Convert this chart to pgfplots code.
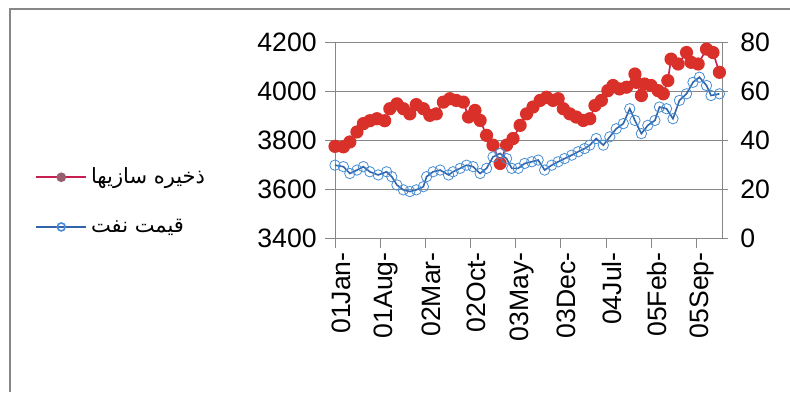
\documentclass[border=0pt]{standalone}
\usepackage{fontspec}
\setmainfont{Liberation Sans}
\newfontfamily\arabicfont[Script=Arabic]{DejaVu Sans}
\TeXXeTstate=1
\usepackage{pgfplots}
\pgfplotsset{compat=1.18}
\definecolor{redm}{RGB}{218,48,42}
\definecolor{redl}{RGB}{200,30,80}
\definecolor{redleg}{RGB}{150,95,110}
\definecolor{bluel}{RGB}{50,100,170}
\definecolor{bluem}{RGB}{70,140,210}
\definecolor{gridc}{RGB}{135,135,135}
\begin{document}
\begin{tikzpicture}
\path[use as bounding box] (0,0) rectangle (395pt,196pt);
\draw[gridc, line width=1pt] (5pt,0pt) -- (5pt,191.5pt) -- (395pt,191.5pt);
\begin{axis}[
  at={(167.5pt,77pt)}, anchor=south west,
  scale only axis, width=193.5pt, height=97.75pt,
  xmin=0, xmax=60, ymin=3400, ymax=4200,
  axis line style={gridc},
  ytick={3400,3600,3800,4000,4200},
  xtick={0,7,14,21,28,35,42,49,56},
  xticklabels={01Jan-,01Aug-,02Mar-,02Oct-,03May-,03Dec-,04Jul-,05Feb-,05Sep-},
  ytick pos=left, xtick pos=bottom,
  tick align=outside, major tick length=5pt,
  tick style={gridc, thin},
  ymajorgrids, grid style={gridc, thin},
  /pgf/number format/assume math mode=true,
  /pgf/number format/1000 sep={},
  tick label style={font=\fontsize{13.3}{16}\selectfont},
  xticklabel style={xshift=3pt, rotate=90, anchor=east, inner sep=2pt},
  yticklabel style={inner sep=1pt, xshift=-3pt},
  clip=false,
]
\addplot[redl, thick, mark=*, mark size=2.9pt, mark options={draw=redm, fill=redm}] coordinates {
(0,3775) (1.3,3773) (2.3,3793) (3.4,3834) (4.4,3868) (5.4,3880) (6.5,3888) (7.7,3880)
(8.5,3929) (9.6,3949) (10.6,3929) (11.6,3908) (12.6,3946) (13.7,3929) (14.7,3902) (15.7,3908)
(16.8,3956) (17.8,3970) (18.8,3963) (19.9,3956) (20.7,3895) (21.7,3922) (22.5,3881) (23.5,3820)
(24.5,3780) (25.6,3705) (26.6,3780) (27.6,3807) (28.7,3861) (29.7,3908) (30.7,3936) (31.8,3963)
(32.8,3976) (33.8,3963) (34.6,3970) (35.4,3929) (36.4,3908) (37.4,3895) (38.5,3881) (39.5,3888)
(40.3,3942) (41.3,3963) (42.3,4003) (43.1,4024) (44.1,4010) (45.2,4017) (46.5,4071) (46.7,4037)
(47.5,3983) (48.0,4030) (49.0,4024) (50.1,4003) (50.9,3990) (51.6,4044) (52.1,4132) (53.2,4112)
(54.5,4159) (55.2,4119) (56.3,4112) (57.6,4173) (58.6,4159) (59.6,4078)
};
\end{axis}
\begin{axis}[
  at={(167.5pt,77pt)}, anchor=south west,
  scale only axis, width=193.5pt, height=97.75pt,
  xmin=0, xmax=60, ymin=0, ymax=80,
  axis line style={draw=none},
  xtick=\empty,
  ytick={0,20,40,60,80},
  ytick pos=right,
  tick align=outside, major tick length=3pt,
  tick style={gridc, thin},
  /pgf/number format/assume math mode=true,
  tick label style={font=\fontsize{13.3}{16}\selectfont},
  yticklabel style={inner sep=1pt, xshift=5pt},
  legend style={at={(-0.775,0.187)}, anchor=west, draw=none, fill=none,
    inner sep=0pt, row sep=12pt,
    font=\arabicfont\fontsize{10.5}{12}\selectfont,
    /tikz/every even column/.append style={column sep=3pt}},
  legend cell align=left,
  legend image code/.code={\draw[#1, mark repeat=2, mark phase=2] plot coordinates {(0pt,0pt) (12.5pt,0pt) (25pt,0pt)};},
  clip=false,
]
\addlegendimage{redl, thick, mark=*, mark size=2pt, mark options={draw=redleg, fill=redleg}}
\addlegendentry{\beginR ذخیره سازیها\endR}
\addlegendimage{bluel, thick, mark=o, mark size=2pt, mark options={draw=bluem}}
\addlegendentry{\beginR قیمت نفت\endR}
\addplot[forget plot, bluel, thick, mark=o, mark size=2.6pt, mark options={draw=bluem, thin}] coordinates {
(0,29.8) (1.3,29.2) (2.3,26.4) (3.4,27.8) (4.4,29.2) (5.4,27.1) (6.7,25.8) (8.0,27.1)
(8.8,25.1) (9.6,21.7) (10.6,19.7) (11.6,19.0) (12.6,19.7) (13.7,21.0) (14.2,25.1) (15.2,27.1)
(16.3,27.8) (17.6,25.8) (18.3,27.1) (19.4,28.5) (20.4,29.8) (21.4,29.2) (22.5,26.4) (23.5,28.5)
(24.5,33.2) (25.6,34.6) (26.6,32.5) (27.4,28.5) (28.4,28.5) (29.4,30.5) (30.5,31.2) (31.5,31.9)
(32.5,27.8) (33.6,29.8) (34.6,31.2) (35.6,32.5) (36.7,33.9) (37.7,35.3) (38.7,36.6) (39.5,38.0)
(40.5,40.7) (41.6,38.0) (42.6,41.4) (43.6,44.7) (44.7,46.8) (45.7,52.9) (46.5,48.1) (47.5,42.7)
(48.5,46.1) (49.6,48.1) (50.3,53.6) (51.4,52.9) (52.4,48.8) (53.4,56.3) (54.5,59.0) (55.5,63.7)
(56.5,65.8) (57.6,62.4) (58.3,58.3) (59.6,59.0)
};
\end{axis}
\end{tikzpicture}
\end{document}
